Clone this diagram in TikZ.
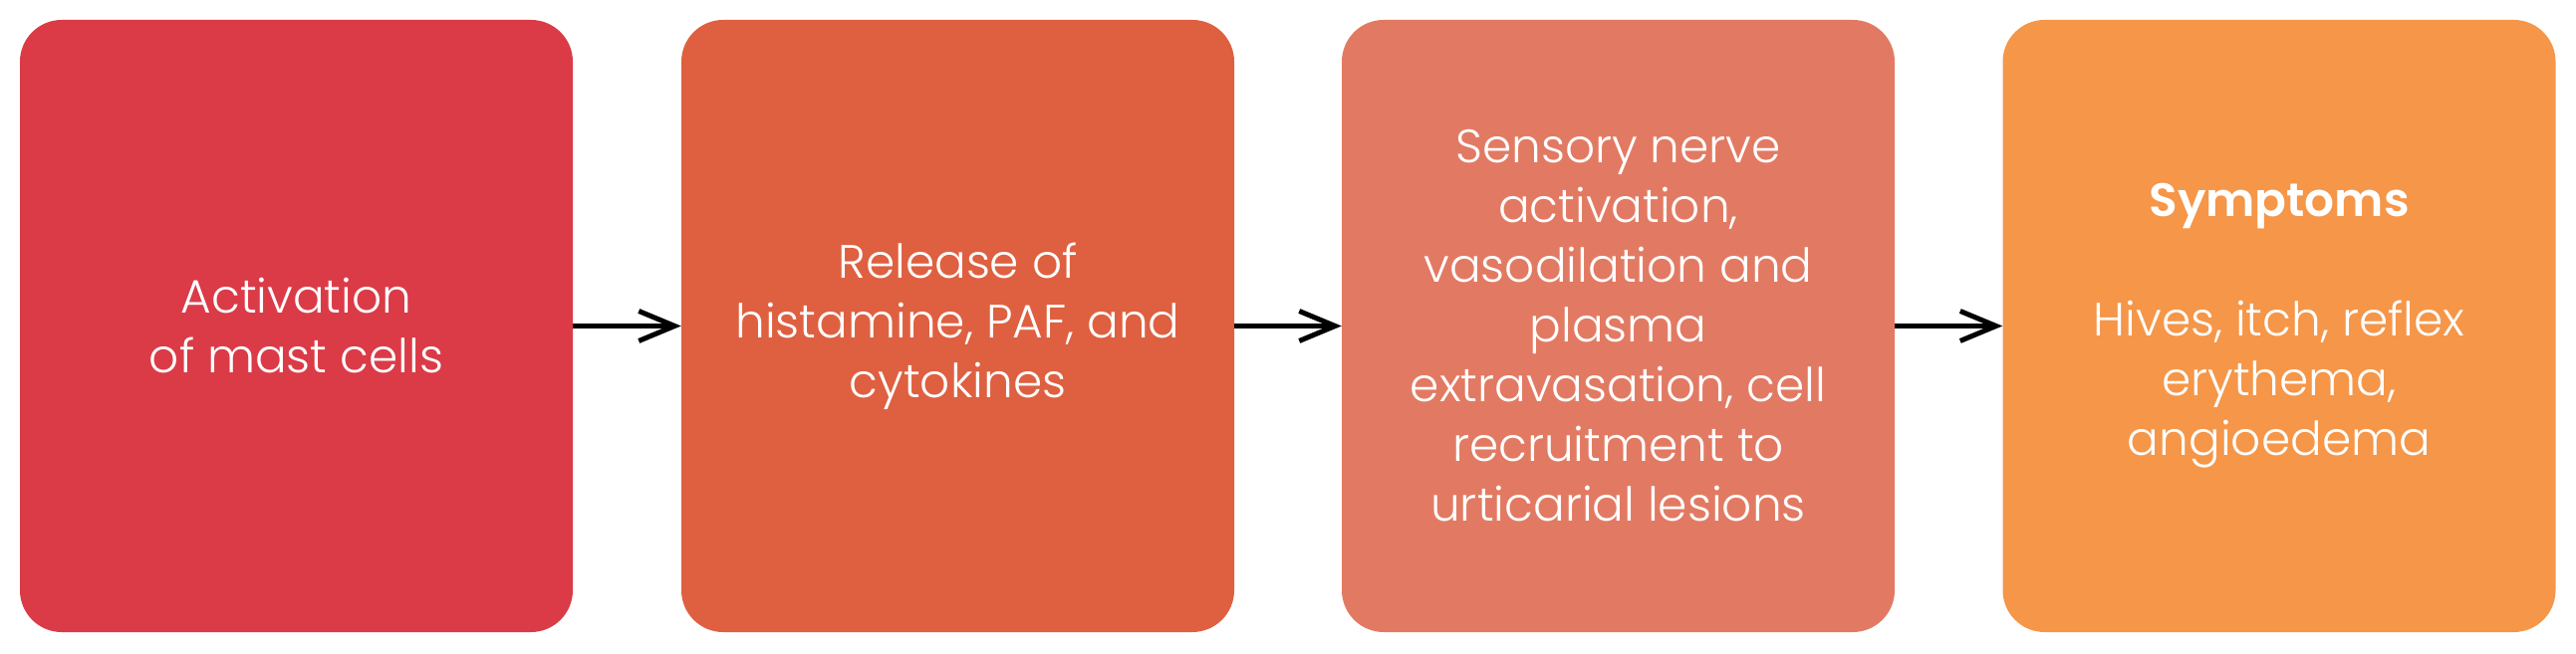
\documentclass[tikz,border=0pt]{standalone}
\usepackage{fontspec}
\setmainfont{Poppins}[UprightFont=* Light, BoldFont=* SemiBold]
\usetikzlibrary{arrows.meta}
\definecolor{cA}{HTML}{DA3B47}
\definecolor{cB}{HTML}{DE6040}
\definecolor{cC}{HTML}{E27A63}
\definecolor{cD}{HTML}{F59649}
\tikzset{
  stepbox/.style={rectangle, rounded corners=42pt, minimum width=555pt, minimum height=615pt,
    inner sep=0pt, text=white, align=center, font=\fontsize{47}{60}\selectfont},
  flow/.style={line width=5pt, -{Straight Barb[length=36pt, width=30pt]}}
}
\begin{document}
\begin{tikzpicture}[x=1pt, y=1pt]
\useasboundingbox (0,0) rectangle (2586,656);
\fill[white] (0,0) rectangle (2586,656);
\node[stepbox, fill=cA] (b1) at (297.5,328.5) {Activation\\of mast cells};
\node[stepbox, fill=cB] (b2) at (961.5,328.5) {Release of\\histamine, PAF, and\\cytokines};
\node[stepbox, fill=cC] (b3) at (1624.5,328.5) {Sensory nerve\\activation,\\vasodilation and\\plasma\\extravasation, cell\\recruitment to\\urticarial lesions};
\node[stepbox, fill=cD] (b4) at (2288,328.5) {\textbf{Symptoms}\\[60pt]Hives, itch, reflex\\erythema,\\angioedema};
\draw[flow] (b1) -- (b2);
\draw[flow] (b2) -- (b3);
\draw[flow] (b3) -- (b4);
\end{tikzpicture}
\end{document}
